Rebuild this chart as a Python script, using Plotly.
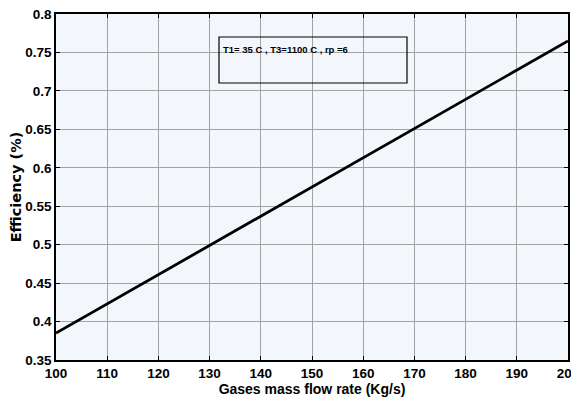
import plotly.graph_objects as go

mass_flow = [100, 110, 120, 130, 140, 150, 160, 170, 180, 190, 200]
efficiency = [0.385, 0.423, 0.461, 0.499, 0.537, 0.575, 0.613, 0.651, 0.689, 0.727, 0.765]
x_ticks = [100, 110, 120, 130, 140, 150, 160, 170, 180, 190, 200]
y_ticks = [0.35, 0.4, 0.45, 0.5, 0.55, 0.6, 0.65, 0.7, 0.75, 0.8]
y_tick_text = ["0.35", "0.4", "0.45", "0.5", "0.55", "0.6", "0.65", "0.7", "0.75", "0.8"]
note = "T1= 35 C , T3=1100 C , rp =6"

lib = "Liberation Sans, Arial, sans-serif"
dejavu = "DejaVu Sans, Verdana, sans-serif"

fig = go.Figure()
fig.add_trace(go.Scatter(x=mass_flow, y=efficiency, mode="lines",
                         line=dict(color="black", width=2.8), showlegend=False))

axis_common = dict(showline=True, linecolor="black", linewidth=1.5, mirror="ticks",
                   ticks="inside", ticklen=4, tickcolor="black",
                   showgrid=True, gridcolor="#a3a3a3", gridwidth=1,
                   zeroline=False, automargin=False, ticklabeloverflow="allow",
                   tickfont=dict(family=lib, size=13.5, color="black", weight="bold"))

fig.update_xaxes(range=[100, 200], tickvals=x_ticks, **axis_common,
                 title=dict(text="Gases mass flow rate (Kg/s)", standoff=2,
                            font=dict(family=lib, size=14, color="black", weight="bold")))
fig.update_yaxes(range=[0.35, 0.8], tickvals=y_ticks, ticktext=y_tick_text, **axis_common,
                 title=dict(text="Efficiency (%)", standoff=5,
                            font=dict(family=dejavu, size=14.5, color="black", weight="bold")))

fig.add_shape(type="rect", xref="paper", yref="paper",
              x0=(219 - 56) / 512, x1=(407 - 56) / 512,
              y0=(360 - 83) / 346, y1=(360 - 37) / 346,
              line=dict(color="black", width=1.2), fillcolor="rgba(0,0,0,0)")
fig.add_annotation(xref="paper", yref="paper", x=(221 - 56) / 512, y=(360 - 49) / 346,
                   xanchor="left", yanchor="middle", showarrow=False, text=note,
                   font=dict(family=lib, size=9.5, color="black", weight="bold"))

fig.update_layout(width=571, height=395,
                  margin=dict(l=48, r=11, t=6, b=43),
                  plot_bgcolor="#f3f7fc", paper_bgcolor="white")

fig.write_html("out.html")
